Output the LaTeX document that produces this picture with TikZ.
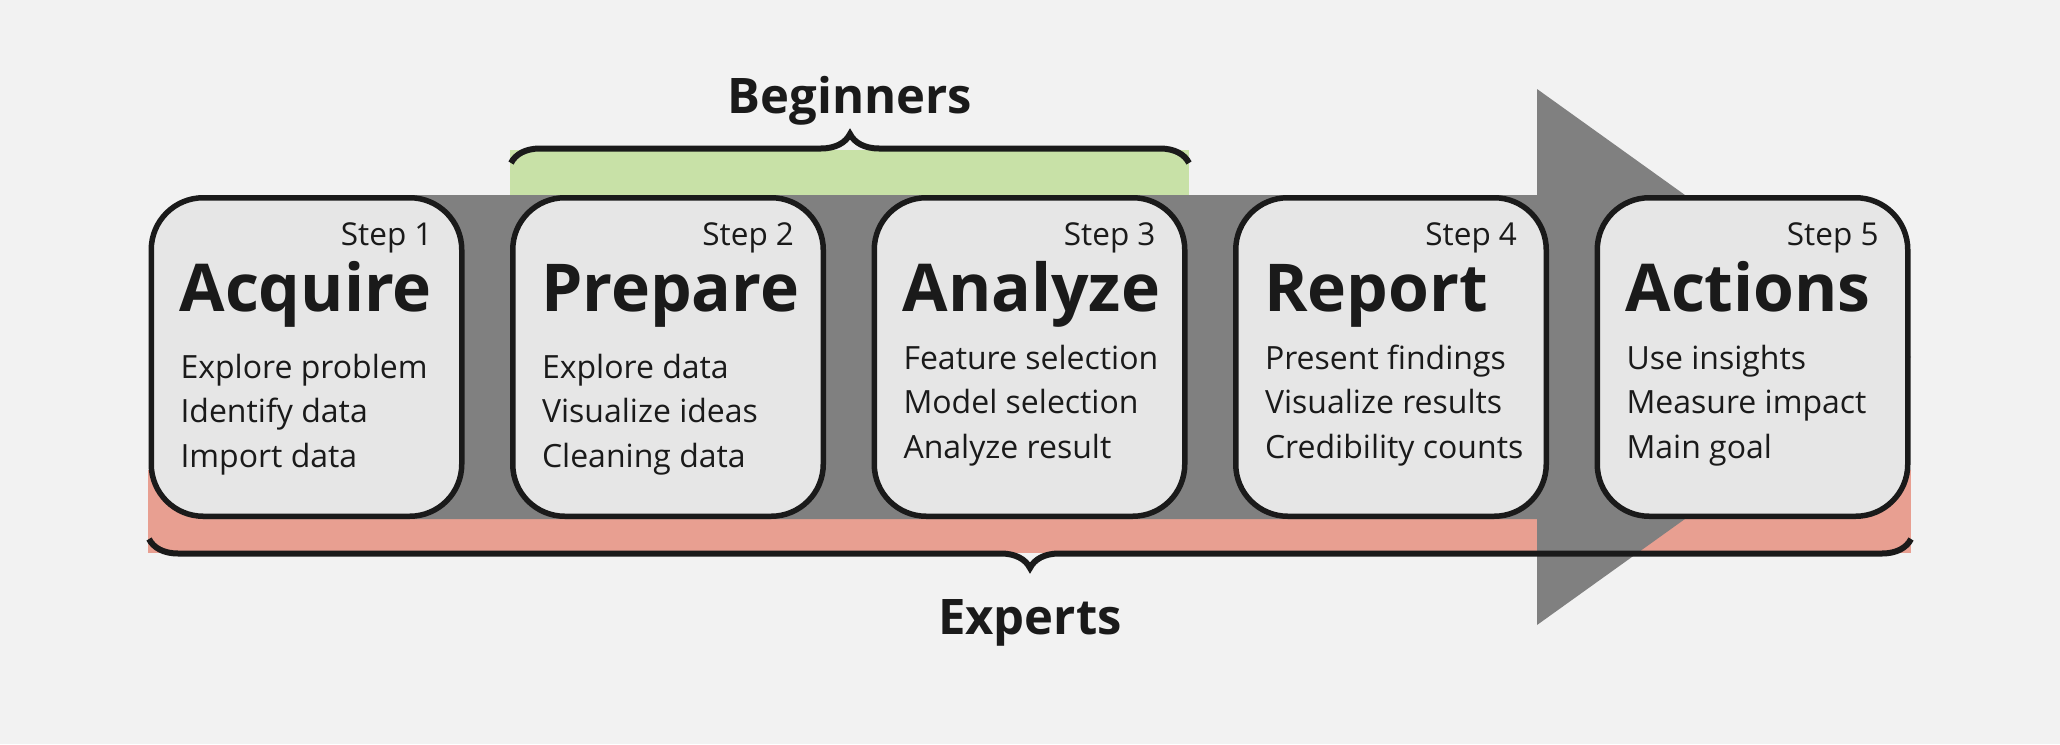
\documentclass[tikz,border=0pt]{standalone}
\usepackage{fontspec}
\setmainfont{Open Sans}
\usepackage{tikz}
\usetikzlibrary{positioning,decorations.pathreplacing}

\definecolor{bgcol}{HTML}{F2F2F2}
\definecolor{boxcol}{HTML}{E6E6E6}
\definecolor{inkcol}{HTML}{1A1A1A}
\definecolor{arrowcol}{HTML}{808080}
\definecolor{begcol}{HTML}{C8E1A7}
\definecolor{expcol}{HTML}{E89F91}

\begin{document}
\begin{tikzpicture}[x=1pt,y=-1pt,node distance=45.5pt,
    stepbox/.style={draw=inkcol,fill=boxcol,line width=5.5pt,rounded corners=52pt,
      minimum width=310.5pt,minimum height=318.5pt,inner sep=0pt},
    steplbl/.style={text=inkcol,inner sep=0pt,outer sep=0pt,anchor=base east,
      font=\fontsize{31.5}{31.5}\selectfont},
    titlelbl/.style={text=inkcol,inner sep=0pt,outer sep=0pt,anchor=base west,
      font=\bfseries\fontsize{66}{66}\selectfont},
    itemlbl/.style={text=inkcol,inner sep=0pt,outer sep=0pt,anchor=base west,align=left,
      font=\fontsize{32}{44.5}\selectfont},
    grouplbl/.style={text=inkcol,inner sep=0pt,anchor=base,
      font=\bfseries\fontsize{49}{49}\selectfont},
    groupbrace/.style={draw=inkcol,line width=6pt,decorate,
      decoration={brace,amplitude=29pt}}]
    \fill[bgcol] (0,0) rectangle (2060,744);
    \useasboundingbox (0,0) rectangle (2060,744);
    % bands and arrow
    \fill[expcol] (148,470) rectangle (1911,553);
    \fill[begcol] (510,150) rectangle (1189,196);
    \fill[arrowcol] (202,195) -- (1537,195) -- (1537,89) -- (1911,357)
      -- (1537,625) -- (1537,519) -- (202,519) -- cycle;
    \draw[groupbrace] (511,163) -- (1189,163);
    \draw[groupbrace] (1911,539) -- (149,539);
    \node[grouplbl] (beg) at (850,113) {Beginners};
    \node[grouplbl] (exp) at (1030,634) {Experts};
    % steps
    \node[stepbox] (st_1) at (306.5,357) {};
    \node[stepbox] [right=of st_1] (st_2) {};
    \node[stepbox] [right=of st_2] (st_3) {};
    \node[stepbox] [right=of st_3] (st_4) {};
    \node[stepbox] [right=of st_4] (st_5) {};
    \node[steplbl] (n_1) at ([xshift=-32pt,yshift=-50pt]st_1.north east) {Step 1};
    \node[titlelbl] (t_1) at ([xshift=31pt,yshift=-116pt]st_1.north west) {Acquire};
    \node[itemlbl] (i_1) at ([xshift=32pt,yshift=-272pt]st_1.north west) {Explore problem\\Identify data\\Import data};
    \node[steplbl] (n_2) at ([xshift=-32pt,yshift=-50pt]st_2.north east) {Step 2};
    \node[titlelbl] (t_2) at ([xshift=31pt,yshift=-116pt]st_2.north west) {Prepare};
    \node[itemlbl] (i_2) at ([xshift=32pt,yshift=-272pt]st_2.north west) {Explore data\\Visualize ideas\\Cleaning data};
    \node[steplbl] (n_3) at ([xshift=-32pt,yshift=-50pt]st_3.north east) {Step 3};
    \node[titlelbl] (t_3) at ([xshift=31pt,yshift=-116pt]st_3.north west) {Analyze};
    \node[itemlbl] (i_3) at ([xshift=32pt,yshift=-263pt]st_3.north west) {Feature selection\\Model selection\\Analyze result};
    \node[steplbl] (n_4) at ([xshift=-32pt,yshift=-50pt]st_4.north east) {Step 4};
    \node[titlelbl] (t_4) at ([xshift=31pt,yshift=-116pt]st_4.north west) {Report};
    \node[itemlbl] (i_4) at ([xshift=32pt,yshift=-263pt]st_4.north west) {Present findings\\Visualize results\\Credibility counts};
    \node[steplbl] (n_5) at ([xshift=-32pt,yshift=-50pt]st_5.north east) {Step 5};
    \node[titlelbl] (t_5) at ([xshift=31pt,yshift=-116pt]st_5.north west) {Actions};
    \node[itemlbl] (i_5) at ([xshift=32pt,yshift=-263pt]st_5.north west) {Use insights\\Measure impact\\Main goal};
\end{tikzpicture}
\end{document}
